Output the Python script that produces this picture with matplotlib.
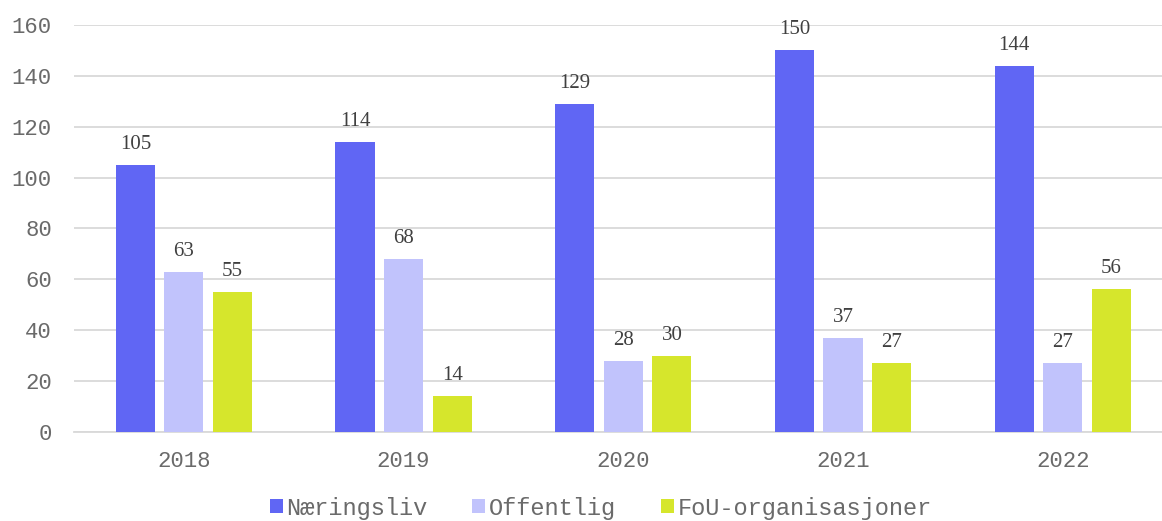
import matplotlib
matplotlib.use("Agg")
from matplotlib import pyplot as plt
import numpy as np

years = ["2018", "2019", "2020", "2021", "2022"]
naeringsliv = [105, 114, 129, 150, 144]
offentlig = [63, 68, 28, 37, 27]
fou = [55, 14, 30, 27, 56]
series_names = ["Næringsliv", "Offentlig", "FoU-organisasjoner"]
colors = ["#6066F4", "#C1C3FC", "#D6E62C"]

fig = plt.figure(figsize=(11.62, 5.21), dpi=100)
ax = fig.add_axes([0.0637, 0.171, 0.936, 0.781])

x = np.arange(len(years))
width = 0.178
step = 0.221
for i, (vals, name) in enumerate(zip([naeringsliv, offentlig, fou], series_names)):
    pos = x + (i - 1) * step
    bars = ax.bar(pos, vals, width, color=colors[i], label=name, zorder=3)
    for b, v in zip(bars, vals):
        ax.annotate(str(v), (b.get_x() + b.get_width() / 2, v),
                    xytext=(0, 8), textcoords="offset points",
                    ha="center", va="bottom", fontsize=15,
                    family="Liberation Serif", color="#404040")

ax.set_ylim(0, 160)
ax.set_xlim(-0.5, 4.45)
ax.set_yticks(range(0, 161, 20))
ax.set_xticks(x)
ax.set_xticklabels(years)
ax.grid(axis="y", color="#D9D9D9", linewidth=1.3, zorder=0)
for s in ["top", "right", "left"]:
    ax.spines[s].set_visible(False)
ax.spines["bottom"].set_color("#D9D9D9")
ax.spines["bottom"].set_linewidth(1.3)
ax.tick_params(length=0, labelsize=16, colors="#6A6A6A", pad=14)
ax.tick_params(axis="y", pad=16)
for lab in ax.get_xticklabels() + ax.get_yticklabels():
    lab.set_family("Liberation Mono")

leg = fig.legend(loc="lower center", bbox_to_anchor=(0.517, -0.038), ncol=3,
                 frameon=False, prop={"family": "Liberation Mono", "size": 17},
                 handlelength=0.55, handleheight=0.55, handletextpad=0.15,
                 columnspacing=1.9)
for t in leg.get_texts():
    t.set_color("#6A6A6A")

fig.savefig("out.png", dpi=100)
